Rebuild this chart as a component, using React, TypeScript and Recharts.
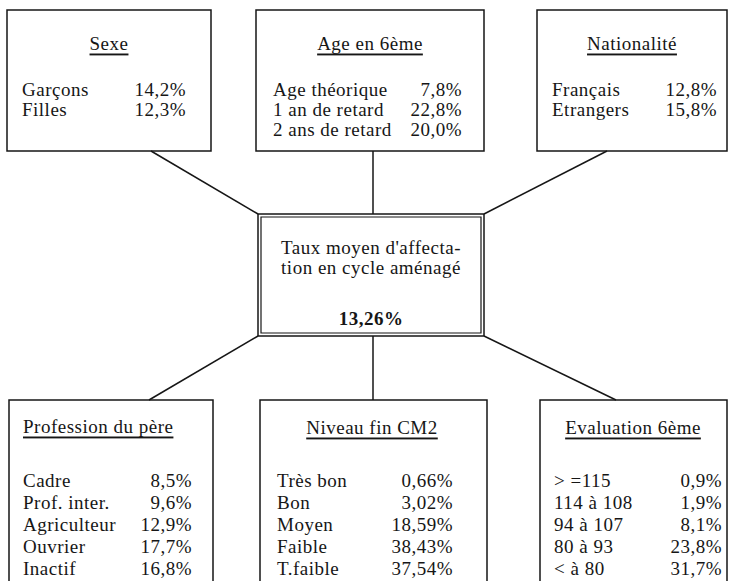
import { ScatterChart, Scatter, XAxis, YAxis, ReferenceArea, ReferenceLine } from 'recharts';

// values (percentages)
const sexeLabels = ['Garçons', 'Filles'];
const sexeValues = [14.2, 12.3];
const ageLabels = ['Age théorique', '1 an de retard', '2 ans de retard'];
const ageValues = [7.8, 22.8, 20.0];
const nationaliteLabels = ['Français', 'Etrangers'];
const nationaliteValues = [12.8, 15.8];
const professionLabels = ['Cadre', 'Prof. inter.', 'Agriculteur', 'Ouvrier', 'Inactif'];
const professionValues = [8.5, 9.6, 12.9, 17.7, 16.8];
const niveauLabels = ['Très bon', 'Bon', 'Moyen', 'Faible', 'T.faible'];
const niveauValues = [0.66, 3.02, 18.59, 38.43, 37.54];
const evaluationLabels = ['> =115', '114 à 108', '94 à 107', '80 à 93', '< à 80'];
const evaluationValues = [0.9, 1.9, 8.1, 23.8, 31.7];
const tauxMoyen = 13.26;

const W = 733;
const H = 581;
const INK = '#161616';
const FONT = "'Liberation Serif', 'Times New Roman', serif";

const fmt = (v: number, d: number) => v.toFixed(d).replace('.', ',') + '%';

type Pt = { x: number; y: number; text: string; anchor: string; underline?: boolean; bold?: boolean };

// layout of each block (pixel units of the hidden axes)
function panel(
  title: string, labels: string[], values: number[], decimals: number,
  lay: { titleX: number; titleY: number; titleAnchor: string; labelX: number; valueX: number; rowY: number; step: number }
): Pt[] {
  const pts: Pt[] = [{ x: lay.titleX, y: lay.titleY, text: title, anchor: lay.titleAnchor, underline: true }];
  labels.forEach((l, i) => {
    pts.push({ x: lay.labelX, y: lay.rowY + i * lay.step, text: l, anchor: 'start' });
    pts.push({ x: lay.valueX, y: lay.rowY + i * lay.step, text: fmt(values[i], decimals), anchor: 'end' });
  });
  return pts;
}

const textPoints: Pt[] = [
  ...panel('Sexe', sexeLabels, sexeValues, 1, { titleX: 109, titleY: 43, titleAnchor: 'middle', labelX: 22, valueX: 186, rowY: 89, step: 20 }),
  ...panel('Age en 6ème', ageLabels, ageValues, 1, { titleX: 370, titleY: 43, titleAnchor: 'middle', labelX: 273, valueX: 462, rowY: 89, step: 20 }),
  ...panel('Nationalité', nationaliteLabels, nationaliteValues, 1, { titleX: 632, titleY: 43, titleAnchor: 'middle', labelX: 552, valueX: 717, rowY: 89, step: 20 }),
  ...panel('Profession du père', professionLabels, professionValues, 1, { titleX: 23, titleY: 426, titleAnchor: 'start', labelX: 23, valueX: 192, rowY: 480, step: 22 }),
  ...panel('Niveau fin CM2', niveauLabels, niveauValues, 2, { titleX: 372, titleY: 427, titleAnchor: 'middle', labelX: 277, valueX: 453, rowY: 480, step: 22 }),
  ...panel('Evaluation 6ème', evaluationLabels, evaluationValues, 1, { titleX: 633, titleY: 427, titleAnchor: 'middle', labelX: 554, valueX: 722, rowY: 480, step: 22 }),
  { x: 371, y: 247, text: "Taux moyen d'affecta-", anchor: 'middle' },
  { x: 371, y: 267, text: 'tion en cycle aménagé', anchor: 'middle' },
  { x: 371, y: 318, text: fmt(tauxMoyen, 2), anchor: 'middle', bold: true },
];

const boxes = [
  { x1: 7, x2: 211, y1: 10, y2: 151 },
  { x1: 256, x2: 484, y1: 10, y2: 151 },
  { x1: 537, x2: 727, y1: 10, y2: 151 },
  { x1: 9, x2: 213, y1: 400, y2: 600 },
  { x1: 260, x2: 487, y1: 400, y2: 600 },
  { x1: 540, x2: 727, y1: 400, y2: 600 },
];

const connectors = [
  [{ x: 151, y: 151 }, { x: 258, y: 214 }],
  [{ x: 373, y: 151 }, { x: 373, y: 214 }],
  [{ x: 607, y: 151 }, { x: 484, y: 214 }],
  [{ x: 258, y: 336 }, { x: 149, y: 400 }],
  [{ x: 373, y: 336 }, { x: 373, y: 400 }],
  [{ x: 484, y: 336 }, { x: 616, y: 400 }],
];

const TextMark = (props: any) => {
  const { cx, cy, payload } = props;
  return (
    <text
      x={cx}
      y={cy}
      textAnchor={payload.anchor}
      dominantBaseline="central"
      fill={INK}
      style={{
        fontFamily: FONT,
        fontSize: 19,
        letterSpacing: 0.5,
        fontWeight: payload.bold ? 'bold' : 'normal',
        textDecoration: payload.underline ? 'underline' : 'none',
      }}
    >
      {payload.text}
    </text>
  );
};

export default function App() {
  return (
    <div style={{ position: 'absolute', left: 0, top: 0, width: W, height: H, background: '#fff' }}>
      <ScatterChart width={W} height={H} margin={{ top: 0, right: 0, bottom: 0, left: 0 }}>
        <XAxis type="number" dataKey="x" domain={[0, W]} hide />
        <YAxis type="number" dataKey="y" domain={[0, H]} reversed hide />
        {boxes.map((b, i) => (
          <ReferenceArea key={`box-${i}`} {...b} fill="#fff" fillOpacity={1} stroke={INK} strokeWidth={1.5} ifOverflow="visible" />
        ))}
        <ReferenceArea x1={258} x2={484} y1={214} y2={336} fill="#fff" fillOpacity={1} stroke={INK} strokeWidth={1.5} ifOverflow="visible" />
        <ReferenceArea x1={261} x2={481} y1={217} y2={333} fill="none" stroke={INK} strokeWidth={1.2} ifOverflow="visible" />
        {connectors.map((s, i) => (
          <ReferenceLine key={`seg-${i}`} segment={s} stroke={INK} strokeWidth={1.5} ifOverflow="visible" />
        ))}
        <Scatter data={textPoints} shape={TextMark} isAnimationActive={false} />
      </ScatterChart>
    </div>
  );
}
